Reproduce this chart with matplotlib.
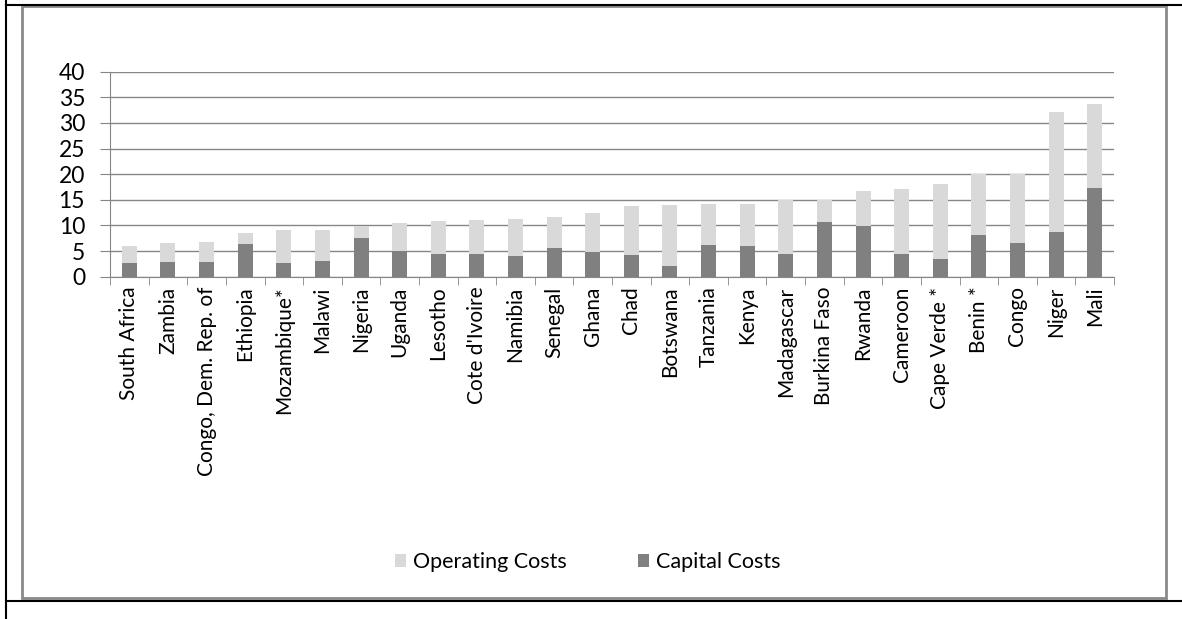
import numpy as np
import matplotlib.pyplot as plt
from matplotlib.lines import Line2D
from matplotlib.patches import Rectangle

plt.rcParams['font.family'] = ['Lato', 'DejaVu Sans']

countries = ['South Africa', 'Zambia', 'Congo, Dem. Rep. of', 'Ethiopia',
             'Mozambique*', 'Malawi', 'Nigeria', 'Uganda', 'Lesotho',
             "Cote d'Ivoire", 'Namibia', 'Senegal', 'Ghana', 'Chad',
             'Botswana', 'Tanzania', 'Kenya', 'Madagascar', 'Burkina Faso',
             'Rwanda', 'Cameroon', 'Cape Verde *', 'Benin *', 'Congo',
             'Niger', 'Mali']

capital = [2.6, 2.9, 2.9, 6.4, 2.7, 3.1, 7.5, 5.1, 4.5, 4.4, 4.0, 5.6, 4.9,
           4.3, 2.1, 6.1, 5.9, 4.5, 10.7, 9.9, 4.5, 3.5, 8.1, 6.6, 8.7, 17.3]
total = [6.0, 6.6, 6.8, 8.5, 9.1, 9.1, 9.8, 10.4, 10.9, 11.0, 11.3, 11.6,
         12.4, 13.7, 14.0, 14.1, 14.2, 15.0, 15.0, 16.7, 17.1, 18.0, 20.0,
         20.0, 32.1, 33.6]
operating = [t - c for t, c in zip(total, capital)]

grey_line = '#868686'
fig = plt.figure(figsize=(11.82, 6.19), dpi=100)
ax = fig.add_axes([0.0931, 0.553, 0.8494, 0.3312])

x = np.arange(len(countries))
ax.bar(x, capital, width=0.39, color='#808080', label='Capital Costs', zorder=3)
ax.bar(x, operating, width=0.39, bottom=capital, color='#d9d9d9',
       label='Operating Costs', zorder=3)

ax.set_xlim(-0.5, len(countries) - 0.5)
ax.set_ylim(0, 40)
ax.set_yticks(np.arange(0, 41, 5))
ax.yaxis.grid(True, color=grey_line, lw=1, zorder=0)
ax.tick_params(axis='y', length=7, color=grey_line, labelsize=16.5, pad=11)

ax.set_xticks(x)
ax.set_xticklabels(countries, rotation=90, fontsize=15)
ax.set_xticks(np.arange(-0.5, len(countries)), minor=True)
ax.tick_params(axis='x', which='major', length=0, pad=7)
ax.tick_params(axis='x', which='minor', length=6, color=grey_line)

for side in ['top', 'right']:
    ax.spines[side].set_visible(False)
for side in ['left', 'bottom']:
    ax.spines[side].set_color(grey_line)

handles, labels = ax.get_legend_handles_labels()
fig.legend(handles[::-1], labels[::-1], loc='center', ncol=2,
           bbox_to_anchor=(0.497, 0.092), frameon=False, fontsize=15.5,
           handlelength=0.55, handleheight=0.55, handletextpad=0.3,
           columnspacing=3.3)

# chart frame and surrounding table rules
W, H = 1182, 619
fig.add_artist(Rectangle((22 / W, 1 - 598 / H), (1166 - 22) / W, (598 - 6) / H,
                         transform=fig.transFigure, fill=False,
                         edgecolor='#8a8a8a', lw=2))
fig.add_artist(Line2D([6 / W, 1], [1 - 5 / H, 1 - 5 / H], color='black', lw=1.5))
fig.add_artist(Line2D([6 / W, 6 / W], [0, 1], color='black', lw=1.5))
fig.add_artist(Line2D([6 / W, 1], [1 - 601 / H, 1 - 601 / H], color='black', lw=1.5))

fig.savefig('out.png', dpi=100)
